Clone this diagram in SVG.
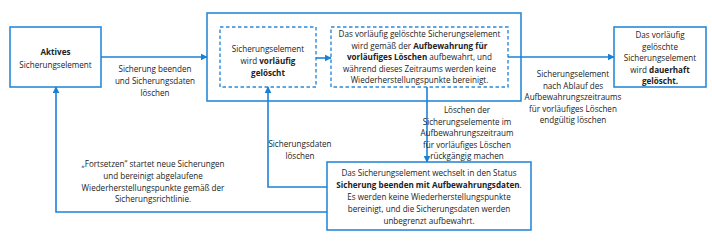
<svg xmlns="http://www.w3.org/2000/svg" width="712" height="241" viewBox="0 0 712 241">
<style>
.box{fill:#fff;stroke:#2b8ad9;stroke-width:1.6}
.dash{fill:#fff;stroke:#2b8ad9;stroke-width:1.4;stroke-dasharray:3.5 2.5}
.t{font-family:"Segoe UI","Open Sans","Noto Sans",sans-serif;font-size:8.1px;fill:#222;text-anchor:middle}
.b{font-weight:bold}
.edge{fill:none;stroke:#1a82d6;stroke-width:1.6}
</style>
<defs>
<marker id="ah" viewBox="0 0 10 10" refX="9" refY="5" markerWidth="7" markerHeight="7" markerUnits="userSpaceOnUse" orient="auto-start-reverse">
<path d="M0 0 L10 5 L0 10 z" fill="#1a82d6"/>
</marker>
</defs>
<rect width="712" height="241" fill="#fff"/>
<g id="big">
<rect class="box" x="207" y="13" width="314" height="88"/>
</g>
<g id="aktiv">
<rect class="box" x="10" y="27" width="91" height="60"/>
<text class="t" x="55.5" y="55"><tspan class="b">Aktives</tspan></text>
<text class="t" x="55.5" y="68">Sicherungselement</text>
</g>
<g id="vorl">
<rect class="dash" x="220" y="27" width="96" height="60"/>
<text class="t" x="268" y="52">Sicherungselement</text>
<text class="t" x="268" y="64">wird <tspan class="b">vorläufig</tspan></text>
<text class="t" x="268" y="76"><tspan class="b">gelöscht</tspan></text>
</g>
<g id="aufb">
<rect class="dash" x="331" y="27" width="177" height="60"/>
<text class="t" x="419.5" y="37">Das vorläufig gelöschte Sicherungselement</text>
<text class="t" x="419.5" y="48.5">wird gemäß der <tspan class="b">Aufbewahrung für</tspan></text>
<text class="t" x="419.5" y="60"><tspan class="b">vorläufiges Löschen</tspan> aufbewahrt, und</text>
<text class="t" x="419.5" y="71.5">während dieses Zeitraums werden keine</text>
<text class="t" x="419.5" y="83">Wiederherstellungspunkte bereinigt.</text>
</g>
<g id="dauer">
<rect class="box" x="614" y="27" width="92" height="60"/>
<text class="t" x="660" y="38">Das vorläufig</text>
<text class="t" x="660" y="49.5">gelöschte</text>
<text class="t" x="660" y="61">Sicherungselement</text>
<text class="t" x="660" y="72.5">wird <tspan class="b">dauerhaft</tspan></text>
<text class="t" x="660" y="84"><tspan class="b">gelöscht.</tspan></text>
</g>
<g id="status">
<rect class="box" x="327" y="162" width="204" height="68"/>
<text class="t" x="429" y="176">Das Sicherungselement wechselt in den Status</text>
<text class="t" x="429" y="188"><tspan class="b">Sicherung beenden mit Aufbewahrungsdaten</tspan>.</text>
<text class="t" x="429" y="200">Es werden keine Wiederherstellungspunkte</text>
<text class="t" x="429" y="212">bereinigt, und die Sicherungsdaten werden</text>
<text class="t" x="429" y="224">unbegrenzt aufbewahrt.</text>
</g>
<g id="connectors">
<path class="edge" d="M101 57 H207" marker-end="url(#ah)"/>
<path class="edge" d="M316 58 H331" marker-end="url(#ah)"/>
<path class="edge" d="M508 57 H614" marker-end="url(#ah)"/>
<path class="edge" d="M427 87 V162" marker-end="url(#ah)"/>
<path class="edge" d="M327 187 H268 V87" marker-end="url(#ah)"/>
<path class="edge" d="M327 212 H56 V87" marker-end="url(#ah)"/>
</g>
<g id="labels">
<text class="t" x="155" y="72">Sicherung beenden</text>
<text class="t" x="155" y="84">und Sicherungsdaten</text>
<text class="t" x="155" y="96">löschen</text>
<text class="t" x="573" y="77">Sicherungselement</text>
<text class="t" x="573" y="88.5">nach Ablauf des</text>
<text class="t" x="573" y="100">Aufbewahrungszeitraums</text>
<text class="t" x="573" y="111.5">für vorläufiges Löschen</text>
<text class="t" x="573" y="123">endgültig löschen</text>
<text class="t" x="467" y="113">Löschen der</text>
<text class="t" x="467" y="124.5">Sicherungselemente im</text>
<text class="t" x="467" y="136">Aufbewahrungszeitraum</text>
<text class="t" x="467" y="147.5">für vorläufiges Löschen</text>
<text class="t" x="467" y="159">rückgängig machen</text>
<text class="t" x="300" y="147">Sicherungsdaten</text>
<text class="t" x="300" y="159">löschen</text>
<text class="t" x="153" y="167">„Fortsetzen“ startet neue Sicherungen</text>
<text class="t" x="153" y="179">und bereinigt abgelaufene</text>
<text class="t" x="153" y="191">Wiederherstellungspunkte gemäß der</text>
<text class="t" x="153" y="202">Sicherungsrichtlinie.</text>
</g>
</svg>
